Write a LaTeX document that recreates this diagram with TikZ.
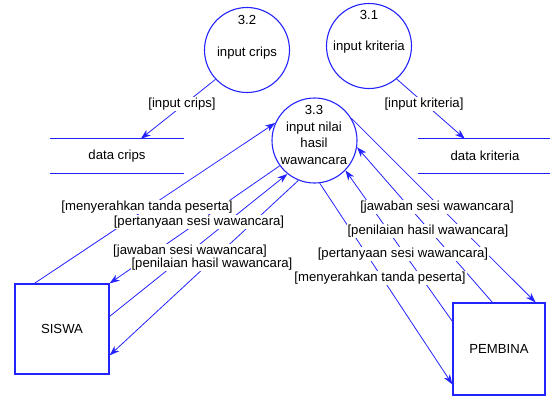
\documentclass[tikz,border=0pt]{standalone}
\usepackage{fontspec}
\setmainfont{Liberation Sans}
\usetikzlibrary{arrows.meta,calc}
\definecolor{dfdblue}{RGB}{35,35,255}
\begin{document}
\begin{tikzpicture}[x=1bp,y=-1bp,
  every node/.style={font=\fontsize{13.2}{15}\selectfont, text=black},
  proc/.style={draw=dfdblue, line width=1.1bp, circle, minimum size=85bp, inner sep=0pt},
  ent/.style={draw=dfdblue, line width=1.2bp, rectangle, inner sep=0pt},
  store/.style={draw=none, inner sep=0pt},
  storeline/.style={draw=dfdblue, line width=1.3bp},
  flow/.style={draw=dfdblue, line width=0.8bp, -{Stealth[length=10bp,width=7bp,inset=3bp]}},
  lbl/.style={fill=white, inner sep=1bp},
  ptxt/.style={inner sep=0pt}
]
\useasboundingbox (0,0) rectangle (550,396);

% processes
\node[proc] (c32) at (247,50) {};
\node[ptxt] (n32) at (247,20) {3.2};
\node[ptxt] (t32) at (247,53) {input crips};

\node[proc] (c31) at (369,46) {};
\node[ptxt] (n31) at (369,15) {3.1};
\node[ptxt] (t31) at (369,47) {input kriteria};

\node[proc] (c33) at (314.5,140.5) {};
\node[ptxt] (n33) at (314,110) {3.3};
\node[ptxt, align=center, font=\fontsize{13.2}{16.5}\selectfont] (t33) at (314,143) {input nilai\\hasil\\wawancara};

% data stores
\node[store, minimum width=134bp, minimum height=34bp] (dcrips) at (117,156) {data crips};
\draw[storeline] (dcrips.north west) -- (dcrips.north east);
\draw[storeline] (dcrips.south west) -- (dcrips.south east);

\node[store, minimum width=134bp, minimum height=34bp] (dkrit) at (485,156) {data kriteria};
\draw[storeline] (dkrit.north west) -- (dkrit.north east);
\draw[storeline] (dkrit.south west) -- (dkrit.south east);

% entities
\node[ent, minimum width=94bp, minimum height=90bp] (siswa) at (62,329) {SISWA};
\node[ent, minimum width=92bp, minimum height=92bp] (pembina) at (499,349) {PEMBINA};

% flows to stores
\draw[flow] (c32.223) -- ($(dcrips.north west)+(91,0)$);
\draw[flow] (c31.310) -- ($(dkrit.north west)+(47,0)$);

% SISWA <-> 3.3
\draw[flow] ($(siswa.north west)+(20,0)$) -- (c33.156);
\draw[flow] (c33.216) -- (siswa.north east);
\draw[flow] ($(siswa.north east)+(0,33)$) -- (c33.231);
\draw[flow] (c33.248) -- ($(siswa.north east)+(0,72)$);

% 3.3 <-> PEMBINA
\draw[flow] (c33.31) -- ($(pembina.north east)+(-10,0)$);
\draw[flow] ($(pembina.north west)+(40,0)$) -- (c33.351.5);
\draw[flow] ($(pembina.north west)+(0,19)$) -- (c33.316);
\draw[flow] (c33.277) -- ($(pembina.north west)+(0,82)$);

% labels
\node[lbl] (l1) at (182,104) {[input crips]};
\node[lbl] (l2) at (424,104) {[input kriteria]};
\node[lbl] (l3) at (147,207) {[menyerahkan tanda peserta]};
\node[lbl] (l4) at (199,222) {[pertanyaan sesi wawancara]};
\node[lbl] (l5) at (190,251) {[jawaban sesi wawancara]};
\node[lbl] (l6) at (212,264) {[penilaian hasil wawancara]};
\node[lbl] (l7) at (437,207) {[jawaban sesi wawancara]};
\node[lbl] (l8) at (428,231) {[penilaian hasil wawancara]};
\node[lbl] (l9) at (403,254) {[pertanyaan sesi wawancara]};
\node[lbl] (l10) at (380,278) {[menyerahkan tanda peserta]};
\end{tikzpicture}
\end{document}
